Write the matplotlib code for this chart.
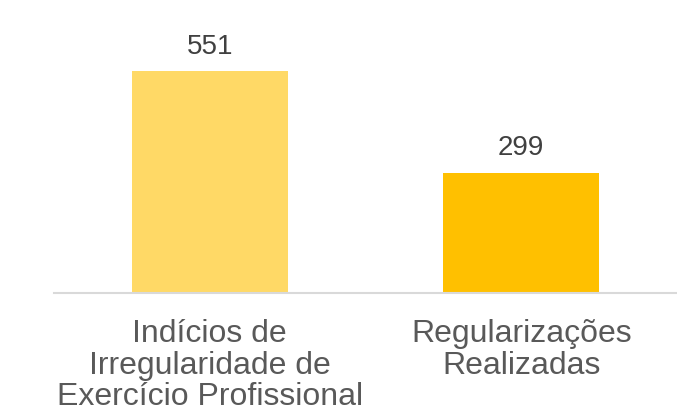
import matplotlib.pyplot as plt
import numpy as np

plt.rcParams['font.family'] = ['Liberation Sans', 'DejaVu Sans']

categories = ['Indícios de\nIrregularidade de\nExercício Profissional',
              'Regularizações\nRealizadas']
values = [551, 299]
colors = ['#FFD966', '#FFC000']

fig = plt.figure(figsize=(6.77, 4.16), dpi=100)
ax = fig.add_axes([54/677, 123/416, 623/677, 282/416])

x = np.arange(len(categories))
bars = ax.bar(x, values, width=0.5, color=colors)

for b, v in zip(bars, values):
    ax.annotate(str(v), (b.get_x() + b.get_width()/2, v),
                xytext=(0, 8), textcoords='offset points',
                ha='center', va='bottom', fontsize=20, color='#404040')

ax.set_xlim(-0.5, 1.5)
ax.set_ylim(0, 700)
ax.set_xticks(x)
ax.set_xticklabels(categories, fontsize=23, color='#595959', linespacing=1.05)
ax.tick_params(axis='x', length=0, pad=19)
ax.set_yticks([])
for s in ['top', 'right', 'left']:
    ax.spines[s].set_visible(False)
ax.spines['bottom'].set_color('#D9D9D9')
ax.spines['bottom'].set_linewidth(1.5)

fig.savefig('out.png', dpi=100)
